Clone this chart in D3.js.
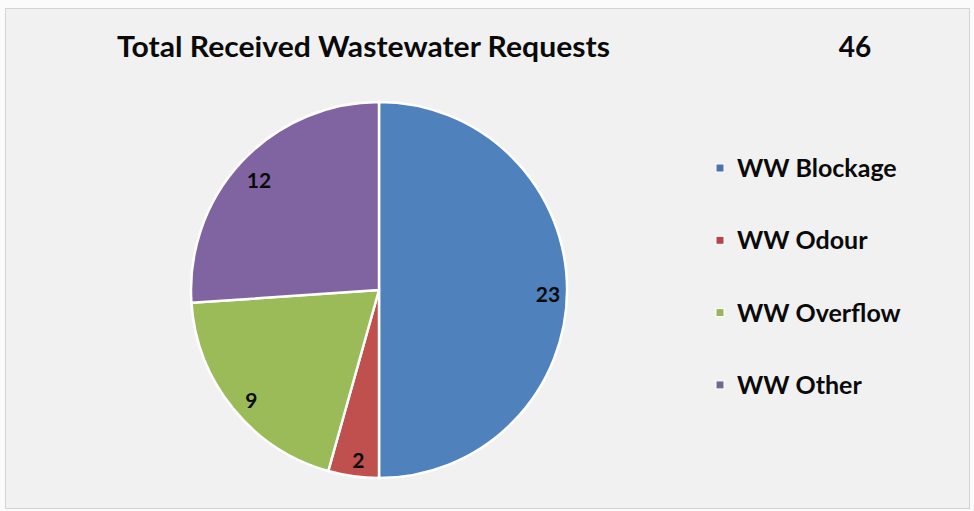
<!DOCTYPE html>
<html><head><meta charset="utf-8">
<script src="https://cdn.jsdelivr.net/npm/d3@7"></script>
<style>html,body{margin:0;padding:0;background:#fff;}svg{display:block;}</style>
</head><body>
<svg id="chart" width="974" height="511"></svg>
<script>
const categories = ["WW Blockage", "WW Odour", "WW Overflow", "WW Other"];
const values = [23, 2, 9, 12];
const colors = ["#4F81BD", "#C0504D", "#9BBB59", "#8064A2"];
const legendColors = ["#4F6FB5", "#B8434A", "#9BB35A", "#6E6A8E"];
const titleText = "Total Received Wastewater Requests";
const totalText = String(d3.sum(values));

const svg = d3.select("#chart");
const font = "Lato, 'Open Sans', sans-serif";

svg.append("rect").attr("x", 0).attr("y", 0).attr("width", 974).attr("height", 511).attr("fill", "#fbfbfb");
svg.append("rect").attr("x", 5.5).attr("y", 8.5).attr("width", 964).attr("height", 500)
  .attr("fill", "#f1f1f1").attr("stroke", "#d4d4d4").attr("stroke-width", 1);

svg.append("text").attr("x", 117).attr("y", 57).text(titleText)
  .attr("font-family", font).attr("font-weight", "bold").attr("font-size", 28)
  .attr("fill", "#0a0a0a").attr("textLength", 493).attr("lengthAdjust", "spacingAndGlyphs");
svg.append("text").attr("x", 855).attr("y", 57).attr("text-anchor", "middle").text(totalText)
  .attr("font-family", font).attr("font-weight", "bold").attr("font-size", 28).attr("fill", "#0a0a0a");

const cx = 379, cy = 290, R = 188;
const pie = d3.pie().sort(null).value(d => d.v);
const data = pie(categories.map((c, i) => ({c, v: values[i], col: colors[i]})));
const arc = d3.arc().innerRadius(0).outerRadius(R);
const labelArc = d3.arc().innerRadius(167).outerRadius(167);

const g = svg.append("g").attr("transform", `translate(${cx},${cy})`);
g.selectAll("path").data(data).join("path")
  .attr("d", arc).attr("fill", d => d.data.col)
  .attr("stroke", "#fff").attr("stroke-width", 2.5).attr("stroke-linejoin", "round");
g.selectAll("text").data(data).join("text")
  .attr("transform", d => { const c = labelArc.centroid(d); return `translate(${c[0] + 2},${c[1] + 5})`; })
  .attr("text-anchor", "middle").attr("dy", "0.35em")
  .attr("font-family", font).attr("font-weight", "bold").attr("font-size", 21).attr("fill", "#0a0a0a")
  .text(d => d.data.v);

const leg = svg.append("g");
const rows = leg.selectAll("g").data(categories).join("g")
  .attr("transform", (d, i) => `translate(716,${168 + i * 72.3})`);
rows.append("rect").attr("x", 0).attr("y", -4).attr("width", 8).attr("height", 8)
  .attr("fill", (d, i) => legendColors[i]).attr("stroke", "#fff").attr("stroke-width", 1);
rows.append("text").attr("x", 21).attr("dy", "0.36em").text(d => d)
  .attr("font-family", font).attr("font-weight", "bold").attr("font-size", 25).attr("fill", "#0a0a0a");
</script>
</body></html>
